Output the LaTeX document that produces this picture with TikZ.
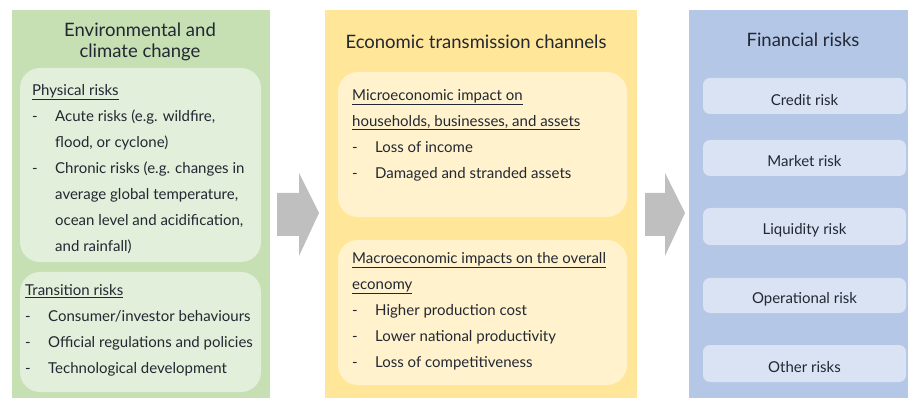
\documentclass[tikz,border=0pt]{standalone}
\usepackage{fontspec}
\setmainfont{Lato}
\definecolor{greenpanel}{HTML}{C6E0B4}
\definecolor{greenbox}{HTML}{E2EFDA}
\definecolor{yellowpanel}{HTML}{FFE699}
\definecolor{yellowbox}{HTML}{FFF2CC}
\definecolor{bluepanel}{HTML}{B4C7E7}
\definecolor{bluebox}{HTML}{DAE3F3}
\definecolor{arrowgray}{HTML}{BFBFBF}
\definecolor{ink}{HTML}{222833}
\newcommand{\bodyfont}{\fontsize{15}{26}\selectfont}
\newcommand{\dashitem}{\makebox[23pt][l]{-}}
\newcommand{\hang}{\hspace*{23pt}}
\tikzset{
  panel/.style={anchor=north west, inner sep=0pt, draw=none},
  subbox/.style={rounded corners=20pt, draw=none},
  riskbox/.style={rounded corners=7pt, draw=none, fill=bluebox},
  title/.style={text=ink, font=\fontsize{18.5}{21.5}\selectfont, align=center, inner sep=0pt},
  body/.style={text=ink, font=\bodyfont, align=left, anchor=north west, inner sep=0pt},
  risklabel/.style={text=ink, font=\fontsize{15}{18}\selectfont, inner sep=0pt},
  blockarrow/.style={fill=arrowgray, draw=none}
}
\begin{document}
\begin{tikzpicture}[x=1pt,y=-1pt]
\useasboundingbox (0,0) rectangle (908,398);

% the three column panels
\node[panel, fill=greenpanel, minimum width=258pt, minimum height=388pt] (env) at (12,10) {};
\node[panel, fill=yellowpanel, minimum width=312pt, minimum height=388pt] (econ) at (325,10) {};
\node[panel, fill=bluepanel, minimum width=219pt, minimum height=388pt] (fin) at (689,10) {};

% block arrows between the panels
\fill[blockarrow] (277,193) -- (299,193) -- (299,173) -- (319,213) -- (299,256) -- (299,236) -- (277,236) -- cycle;
\fill[blockarrow] (645,193) -- (665,193) -- (665,173) -- (685,213) -- (665,256) -- (665,236) -- (645,236) -- cycle;

% column titles
\node[title] (envtitle) at (140,42) {Environmental and\\climate change};
\node[title] (econtitle) at (476,42) {Economic transmission channels};
\node[title] (fintitle) at (803,40) {Financial risks};

% environmental and climate change
\filldraw[subbox, fill=greenbox] (20,68) rectangle (261,262);
\filldraw[subbox, fill=greenbox] (20,272) rectangle (261,392);

\node[body] (phys) at (32,84) {\underline{Physical risks}\\
\dashitem Acute risks (e.g. wildfire,\\
\hang flood, or cyclone)\\
\dashitem Chronic risks (e.g. changes in\\
\hang average global temperature,\\
\hang ocean level and acidification,\\
\hang and rainfall)};

\node[body] (trans) at (25,284) {\underline{Transition risks}\\
\dashitem Consumer/investor behaviours\\
\dashitem Official regulations and policies\\
\dashitem Technological development};

% economic transmission channels
\filldraw[subbox, fill=yellowbox] (338,72) rectangle (627,217);
\filldraw[subbox, fill=yellowbox] (338,240) rectangle (627,385);

\node[body] (micro) at (352,89) {\underline{Microeconomic impact on}\\
\underline{households, businesses, and assets}\\
\dashitem Loss of income\\
\dashitem Damaged and stranded assets};

\node[body] (macro) at (352,252) {\underline{Macroeconomic impacts on the overall}\\
\underline{economy}\\
\dashitem Higher production cost\\
\dashitem Lower national productivity\\
\dashitem Loss of competitiveness};

% financial risks
\filldraw[riskbox] (703,78) rectangle (906,114);
\filldraw[riskbox] (703,140) rectangle (906,176);
\filldraw[riskbox] (703,208) rectangle (906,245);
\filldraw[riskbox] (703,278) rectangle (906,313);
\filldraw[riskbox] (703,345) rectangle (906,382);
\node[risklabel] (credit) at (804.5,100) {Credit risk};
\node[risklabel] (market) at (804.5,161) {Market risk};
\node[risklabel] (liquidity) at (804.5,230) {Liquidity risk};
\node[risklabel] (operational) at (804.5,299) {Operational risk};
\node[risklabel] (other) at (804.5,367) {Other risks};
\end{tikzpicture}
\end{document}
